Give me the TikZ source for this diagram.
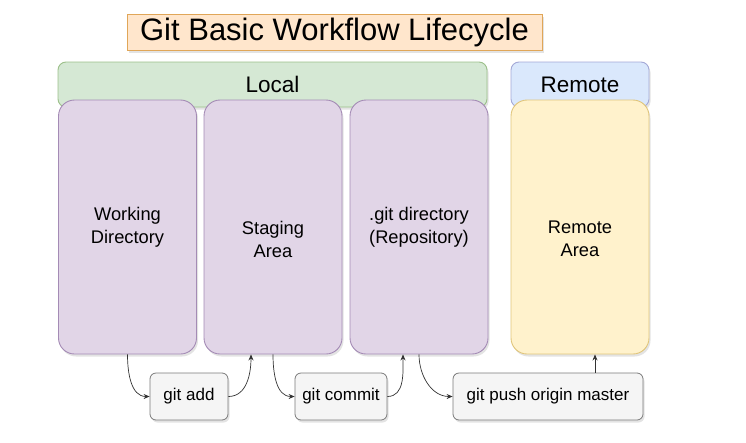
\documentclass[tikz,border=0pt]{standalone}
\usepackage{fontspec}
\setmainfont{Liberation Sans}
\usepackage{xcolor}
\usetikzlibrary{arrows.meta,shadows,positioning}
\definecolor{titlefill}{HTML}{FFE6CC}
\definecolor{titleline}{HTML}{E0A658}
\definecolor{localfill}{HTML}{D5E8D4}
\definecolor{localline}{HTML}{9CC08A}
\definecolor{remotefill}{HTML}{DAE8FC}
\definecolor{remoteline}{HTML}{A3A8D6}
\definecolor{stagefill}{HTML}{E1D5E7}
\definecolor{stageline}{HTML}{A48BB5}
\definecolor{areafill}{HTML}{FFF2CC}
\definecolor{arealine}{HTML}{E0C57A}
\definecolor{cmdfill}{HTML}{F5F5F5}
\definecolor{cmdline}{HTML}{7A7A7A}
\definecolor{flowline}{HTML}{333333}
\tikzset{
shade box/.style={drop shadow={shadow xshift=1.5pt, shadow yshift=-2.5pt, opacity=0.22}},
titlebox/.style={draw=titleline, fill=titlefill, line width=0.9pt, shade box, minimum width=415pt, minimum height=35pt, font=\fontsize{31}{36}\selectfont},
headbox/.style={rounded corners=8pt, line width=0.9pt, shade box, minimum height=45pt, font=\fontsize{22.5}{26}\selectfont},
areabox/.style={rounded corners=16pt, line width=0.9pt, shade box, minimum width=138pt, minimum height=254pt, align=center, font=\fontsize{18.3}{23}\selectfont},
cmdbox/.style={draw=cmdline, fill=cmdfill, rounded corners=6pt, line width=0.8pt, shade box, minimum height=47pt, font=\fontsize{17}{20}\selectfont},
areatext/.style={align=center, font=\fontsize{18.3}{23}\selectfont},
flow/.style={draw=flowline, line width=0.7pt, -{Stealth[length=6pt,width=5pt]}}
}
\begin{document}
\begin{tikzpicture}[x=1pt,y=-1pt]
    \useasboundingbox (0,0) rectangle (746,442);
    \node[titlebox] (title) at (334.5,32.5) {Git Basic Workflow Lifecycle};
    \node[headbox, draw=localline, fill=localfill, minimum width=429pt] (local) at (272.5,84.5) {Local};
    \node[headbox, draw=remoteline, fill=remotefill, minimum width=138pt] (remote) at (580,84.5) {Remote};
    \node[areabox, draw=stageline, fill=stagefill] (wd) at (127.5,227) {Working\\Directory};
    \node[areabox, draw=stageline, fill=stagefill] (sa) at (273,227) {};
    \node[areatext] (satext) at ([yshift=-12pt]sa.center) {Staging\\Area};
    \node[areabox, draw=stageline, fill=stagefill] (gd) at (419,227) {.git directory\\(Repository)};
    \node[areabox, draw=arealine, fill=areafill] (ra) at (580,227) {};
    \node[areatext] (ratext) at ([yshift=-12pt]ra.center) {Remote\\Area};
    \node[cmdbox, minimum width=78pt] (add) at (189,396.5) {git add};
    \node[cmdbox, minimum width=92pt] (commit) at (341,396.5) {git commit};
    \node[cmdbox, minimum width=190pt] (push) at (548,396.5) {git push origin master};
    \draw[flow] (wd.south) to[out=-90, in=180] (add.west);
    \draw[flow] (add.east) to[out=0, in=-90] ([xshift=-22pt]sa.south);
    \draw[flow] (sa.south) to[out=-90, in=180] (commit.west);
    \draw[flow] (commit.east) to[out=0, in=-90] ([xshift=-16pt]gd.south);
    \draw[flow] (gd.south) to[out=-90, in=180] (push.west);
    \draw[flow] ([xshift=47pt]push.north) -- ([xshift=15pt]ra.south);
\end{tikzpicture}
\end{document}
